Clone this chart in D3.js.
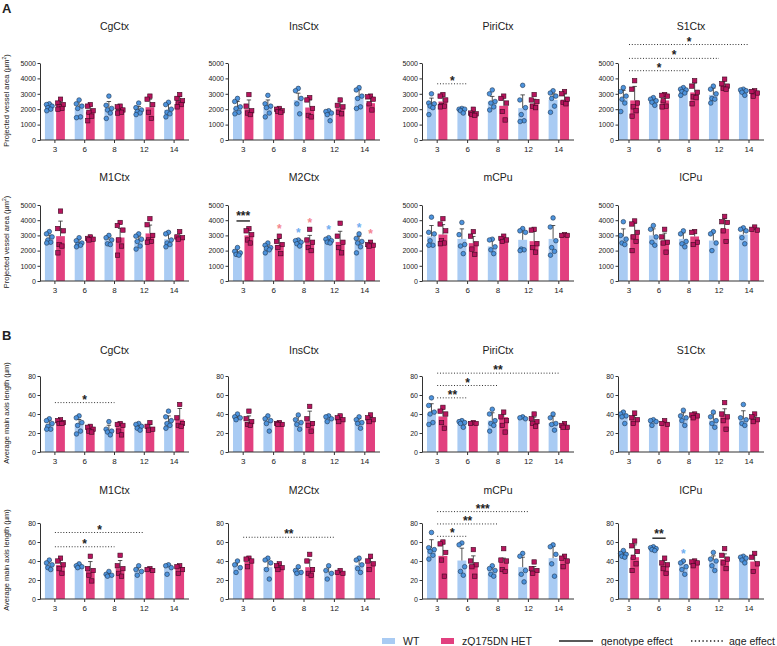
<!DOCTYPE html>
<html><head><meta charset="utf-8">
<script src="https://cdn.jsdelivr.net/npm/d3@7"></script>
<style>
body{margin:0;background:#fff}
svg{display:block}
text{font-family:"Liberation Sans",Arial,sans-serif;fill:#222}
</style>
</head><body>
<svg id="c" width="777" height="646"></svg>
<script>
// ---------------- DATA ----------------
const ages = [3, 6, 8, 12, 14];
const regions = ["CgCtx","InsCtx","PiriCtx","S1Ctx","M1Ctx","M2Ctx","mCPu","lCPu"];
const areaTicks = [0, 1000, 2000, 3000, 4000, 5000];
const lengthTicks = [0, 20, 40, 60, 80];
const areaTitle = "Projected vessel area (µm";
const lengthTitle = "Average main axis length (µm)";
const legendLabels = ["WT", "zQ175DN HET", "genotype effect", "age effect"];

// Panel A: projected vessel area
const areaWtMean = [
  [2170,2070,2040,1890,1960],[2070,2170,2590,1780,2780],[2280,1960,2500,2070,2610],[2650,2500,3150,2930,3220],
  [2750,2420,2690,2690,2750],[1830,2100,2600,2680,2630],[2930,2770,2270,2710,2770],[2930,3000,2770,2660,3060]];
const areaWtSd = [
  [180,530,460,280,390],[430,430,450,130,480],[440,150,330,860,390],[570,220,220,440,100],
  [270,380,260,260,490],[380,350,150,130,320],[720,660,500,720,880],[500,430,400,620,370]];
const areaHetMean = [
  [2220,1830,1850,2130,2500],[2000,1890,2110,2070,2390],[2500,1700,2220,2350,2570],[2570,2570,3090,3540,3150],
  [2950,2800,2860,3130,2860],[3000,2380,2550,2570,2370],[3060,2490,2710,2620,3000],[3060,2660,2930,3430,3330]];
const areaHetSd = [
  [380,390,220,520,330],[600,180,490,430,440],[480,260,610,300,410],[910,360,610,370,110],
  [990,150,600,550,380],[440,420,450,700,150],[650,440,220,660,60],[740,490,400,670,210]];
const areaWtPts = [
  [[2350,2300,2200,2100,2000,1900],[2600,2350,2200,2050,1500,1450],[2850,2250,2050,1950,1750,1400],[2400,2100,1950,1850,1750,1650],[2450,2300,2000,1800,1700,1500]],
  [[2700,2500,2150,2050,1800,1700],[2900,2350,2200,2100,1750,1500],[3350,3200,2700,2350,1700],[1900,1850,1750,1650,1250],[3400,3250,2850,2700,2150,2050]],
  [[3000,2400,2350,2200,2100,1650],[2050,2000,2000,1900,1750],[3250,3000,2500,2400,2150,1950],[3550,2600,2100,1650,1250,1200],[3200,3050,2850,2700,2200,1800]],
  [[3400,3150,2850,2650,2400,1850],[2750,2650,2550,2450,2250],[3400,3300,3250,3150,3050,2900],[3500,3300,3000,2700,2650,2400],[3300,3250,3200,3100,2900]],
  [[3250,3100,2900,2700,2550,2500],[2850,2650,2500,2400,2350,2250],[3000,2850,2700,2450,2400],[3100,2950,2750,2600,2300,2100],[3200,3100,2700,2500,2400,2250]],
  [[2200,1950,1850,1750,1700],[2500,2350,2200,2150,2050,1850],[2700,2650,2550,2450,2300],[2850,2750,2650,2550,2500],[3100,2800,2600,2500,2250,1850]],
  [[4200,3200,3100,2650,2350,2350],[3850,3050,2400,2300,1800],[2750,2700,2250,2050,1800],[3450,3300,3200,2100,2050,2000],[4150,3550,2650,2200,1950,1700]],
  [[3900,3000,2750,2500,2400],[3650,3400,2900,2550,2350],[3300,3100,2600,2450,2250],[3250,3100,2500,2000],[3500,3400,3300,2850,2450]]];
const areaHetPts = [
  [[2650,2400,2300,2150,2050,2000],[2300,2200,1900,1800,1550,1250],[2200,2150,1950,1850,1800,1750],[2850,2650,2300,1800,1400],[2950,2700,2550,2400,2300,2150]],
  [[2950,2200,1900,1750,1650],[2050,2000,1900,1850,1800],[2750,2600,2050,1600,1500],[2600,2250,2150,1800,1700],[2850,2800,2650,2350,1950]],
  [[2950,2850,2600,2250,2150,2200],[2000,1750,1700,1650,1600],[2850,2700,2400,1850,1300],[2950,2600,2500,2200,2100],[3150,3000,2650,2450,2350]],
  [[3850,3300,2400,2150,1900,1550],[2950,2900,2850,2550,2200,2150],[3850,3500,3100,2800,2750,2350],[3950,3650,3500,3350,3300],[3200,3150,3050,2850]],
  [[4600,3450,3300,2400,2300,1850],[2900,2800,2750,2700],[3850,3650,3350,2700,2300,1700],[4100,3700,3000,2700,2600,2550],[3250,2900,2850,2750]],
  [[3450,3300,3050,2700,2500],[2950,2600,2400,2200,1800],[3400,2700,2550,2200,2000],[3800,2950,2550,2200,1850],[2550,2400,2350,2300]],
  [[4100,3750,3300,2650,2500,2450],[3250,2950,2450,2100,1750],[2950,2800,2700,2600],[3400,3350,2450,2200,1900],[3050,3000,3000]],
  [[3950,3750,3200,2900,2600,2000],[3400,2900,2550,2500,1900],[3250,3200,2550,2400],[4250,3900,3850,3300,2600],[3550,3400,3350]]];

// Panel B: average main axis length
const lenWtMean = [
  [28.9,30,22.9,27.1,31.7],[35.9,33.5,32.4,35.9,31.7],[40.2,31.3,33.1,35.6,30.6],[40.2,33.1,37.7,33.1,34.9],
  [37,34.9,25.4,29.9,34.9],[34.9,33.5,29.9,27.8,35.9],[53.5,40.5,30.6,33.5,43],[46.5,52.5,37,41.2,43]];
const lenWtSd = [
  [4.6,4.2,5.3,2.9,6.3],[2.8,4.5,5.6,2.8,3.5],[10.6,1.8,8.2,1.1,7.1],[2.5,1.1,3.6,7.1,8.5],
  [3.5,2.1,1.7,3.6,1],[5.6,8.4,2.5,5.7,5.3],[8.9,13,3.6,10.5,12.3],[3.5,2.8,2.4,4.2,1.7]];
const lenHetMean = [
  [31.7,24.6,27.1,25.4,34.2],[31.7,31,32.4,34.2,34.2],[37.4,30.2,36.7,31.3,27],[34.9,31.3,39.1,38.4,34.9],
  [35.9,29.9,32.4,30.6,33.5],[39.4,33.5,33.5,27.1,37.7],[45.4,35.9,39.4,29.9,42.3],[44,37.7,39.4,41.9,39.4]];
const lenHetSd = [
  [2.5,3.6,3.9,3.5,11.6],[6.3,1,10.6,4.5,2.8],[9.9,0.4,3.5,5.4,2.5],[3.5,1.4,1.1,7.1,4.2],
  [6,9.5,8.1,1.8,1.4],[3.6,3.5,7.7,1.8,5.3],[12.7,9.5,3.6,4.3,4.2],[13,3.5,1.1,5.6,7.1]];
const lenWtPts = [
  [[35,33,30,27,24,24],[38,36,31,28,22,19],[32,24,22,21,18],[30,29,27,25,23],[43,37,33,30,28,25]],
  [[40,37,36,34],[38,35,33,30,22],[39,34,31,29,24],[38,37,35,32],[37,34,31,30,25]],
  [[57,49,42,40,31,29],[33,32,31,30,26],[45,40,33,30,28,22],[37,36,35],[40,36,30,29,23]],
  [[42,40,38,37,30],[34,33,32,28],[44,38,36,33,28],[42,37,33,30,26],[50,36,34,30,28]],
  [[41,38,36,33,31],[37,35,34,33],[29,26,25,24],[35,31,29,25],[36,35,33,26]],
  [[40,36,33,28],[43,41,38,31,21],[34,30,28,27],[35,30,27,21],[43,41,36,32,28]],
  [[70,54,52,50,46,42],[59,57,34,29,25],[35,32,30,26,24],[48,45,30,26,18],[57,55,47,37,24]],
  [[51,48,47,45,44],[55,54,53,52,51],[40,38,34,31,26],[49,42,40,35,30],[45,44,43,41,38]]];
const lenHetPts = [
  [[34,33,31,30,30],[27,26,24,22,21],[30,29,28,22,18],[31,27,24,23],[50,36,30,28,27]],
  [[43,35,32,29,28],[31,30,29,29],[48,35,30,28,22],[38,36,34,32],[39,36,34,32]],
  [[47,43,40,31,25],[31,30,30],[42,37,33,28,21],[40,35,32,30,27],[30,28,26,26]],
  [[41,36,34,30],[33,30,29],[40,39,38,36],[52,40,37,33,24],[40,37,34,32]],
  [[43,40,36,32,27],[45,32,30,25,19],[46,35,32,27,24],[32,31,30],[35,34,31,27]],
  [[43,42,40,34],[37,35,33,31],[47,40,31,27,25],[30,28,27],[45,40,37,31]],
  [[60,58,49,41,24],[52,40,36,34,24],[53,41,40,31,29],[39,32,30,27],[45,43,40,34]],
  [[61,56,50,44,37,30],[43,38,36,32,27],[40,39,38,35],[53,46,42,38,32],[48,44,37,29]]];

// Significance annotations (values in data units)
const areaAgeSig = [
  {region:"PiriCtx", from:3, to:6, value:3650, label:"*"},
  {region:"S1Ctx", from:3, to:8, value:4500, label:"*"},
  {region:"S1Ctx", from:3, to:12, value:5300, label:"*"},
  {region:"S1Ctx", from:3, to:14, value:6200, label:"*"}];
const areaGenoSig = [{region:"M2Ctx", age:3, value:3950, label:"***"}];
const areaStars = [
  {region:"M2Ctx", age:6, geno:"HET", value:3600},
  {region:"M2Ctx", age:8, geno:"WT", value:3300},
  {region:"M2Ctx", age:8, geno:"HET", value:4000},
  {region:"M2Ctx", age:12, geno:"WT", value:3520},
  {region:"M2Ctx", age:14, geno:"WT", value:3680},
  {region:"M2Ctx", age:14, geno:"HET", value:3280}];
const lenAgeSig = [
  {region:"CgCtx", from:3, to:8, value:52, label:"*"},
  {region:"PiriCtx", from:3, to:6, value:57, label:"**"},
  {region:"PiriCtx", from:3, to:8, value:70, label:"*"},
  {region:"PiriCtx", from:3, to:14, value:83, label:"**"},
  {region:"M1Ctx", from:3, to:8, value:55, label:"*"},
  {region:"M1Ctx", from:3, to:12, value:70, label:"*"},
  {region:"M2Ctx", from:3, to:12, value:65, label:"**"},
  {region:"mCPu", from:3, to:6, value:66, label:"*"},
  {region:"mCPu", from:3, to:8, value:79, label:"**"},
  {region:"mCPu", from:3, to:12, value:92, label:"***"}];
const lenGenoSig = [{region:"lCPu", age:6, value:64, label:"**"}];
const lenStars = [{region:"lCPu", age:8, geno:"WT", value:50}];

// ---------------- STYLE / LAYOUT ----------------
const C = {wtBar:"#a9cbf3", hetBar:"#e2407f", wtPt:"#4d93dd", wtPtS:"#1e3550",
           hetPt:"#b7145d", hetPtS:"#3d0b22", axis:"#333", err:"#2a2a2a",
           wtStar:"#72aef0", hetStar:"#f4868f"};
const colAxisX = [40, 228, 422, 618];
const colX0 = [40, 228, 422, 614];
const colW = [149, 152, 152, 150];
const rowTopY = [63, 205, 376, 523];
const rowBotY = [140, 281, 452, 599];
const titleY = [30, 181, 354, 494];
const jitter = [0, -2.8, 2.8, -1.4, 1.4, -2.6, 2.6];
const FONT = "Liberation Sans, Arial, sans-serif";

const svg = d3.select("#c");

const measures = [
  {rows:[0,1], max:5000, ticks:areaTicks, wtMean:areaWtMean, wtSd:areaWtSd, hetMean:areaHetMean, hetSd:areaHetSd,
   wtPts:areaWtPts, hetPts:areaHetPts, ageSig:areaAgeSig, genoSig:areaGenoSig, stars:areaStars, yTitle:areaTitle, sup:true, letter:"A", letterY:13},
  {rows:[2,3], max:80, ticks:lengthTicks, wtMean:lenWtMean, wtSd:lenWtSd, hetMean:lenHetMean, hetSd:lenHetSd,
   wtPts:lenWtPts, hetPts:lenHetPts, ageSig:lenAgeSig, genoSig:lenGenoSig, stars:lenStars, yTitle:lengthTitle, sup:false, letter:"B", letterY:340}];

function drawPanel(m, ri) {
  const row = m.rows[Math.floor(ri / 4)], col = ri % 4, region = regions[ri];
  const g = svg.append("g");
  const x = d3.scaleBand().domain(ages).range([colX0[col], colX0[col] + colW[col]]).paddingInner(0.33).paddingOuter(0.165);
  const xg = d3.scaleBand().domain(["WT","HET"]).range([0, x.bandwidth()]).paddingInner(0.22);
  const y = d3.scaleLinear().domain([0, m.max]).range([rowBotY[row], rowTopY[row]]);

  const groups = [];
  ages.forEach((a, i) => {
    groups.push({age:a, geno:"WT", mean:m.wtMean[ri][i], sd:m.wtSd[ri][i], pts:m.wtPts[ri][i]});
    groups.push({age:a, geno:"HET", mean:m.hetMean[ri][i], sd:m.hetSd[ri][i], pts:m.hetPts[ri][i]});
  });
  const bx = d => x(d.age) + xg(d.geno);
  const cx = d => bx(d) + xg.bandwidth() / 2;

  // bars
  g.selectAll("rect.bar").data(groups).join("rect").attr("class","bar")
    .attr("x", bx).attr("width", xg.bandwidth())
    .attr("y", d => y(d.mean)).attr("height", d => y(0) - y(d.mean))
    .attr("fill", d => d.geno === "WT" ? C.wtBar : C.hetBar);
  // error bars (mean + SD)
  g.selectAll("line.err").data(groups).join("line").attr("class","err")
    .attr("x1", cx).attr("x2", cx).attr("y1", d => y(d.mean)).attr("y2", d => y(d.mean + d.sd))
    .attr("stroke", C.err).attr("stroke-width", 0.8);
  g.selectAll("line.cap").data(groups).join("line").attr("class","cap")
    .attr("x1", d => cx(d) - 2.2).attr("x2", d => cx(d) + 2.2)
    .attr("y1", d => y(d.mean + d.sd)).attr("y2", d => y(d.mean + d.sd))
    .attr("stroke", C.err).attr("stroke-width", 0.8);
  // points
  groups.forEach(d => {
    const sorted = d.pts.slice().sort((a, b) => b - a);
    const pts = sorted.map((v, k) => ({v, px: cx(d) + jitter[k % jitter.length]}));
    if (d.geno === "WT") {
      g.append("g").selectAll("circle").data(pts).join("circle")
        .attr("cx", p => p.px).attr("cy", p => y(p.v)).attr("r", 2.3)
        .attr("fill", C.wtPt).attr("stroke", C.wtPtS).attr("stroke-width", 0.6);
    } else {
      g.append("g").selectAll("rect").data(pts).join("rect")
        .attr("x", p => p.px - 2.2).attr("y", p => y(p.v) - 2.2).attr("width", 4.4).attr("height", 4.4)
        .attr("fill", C.hetPt).attr("stroke", C.hetPtS).attr("stroke-width", 0.6);
    }
  });

  // y axis
  const ya = g.append("g").attr("transform", `translate(${colAxisX[col]},0)`)
    .call(d3.axisLeft(y).tickValues(m.ticks).tickSize(2.5).tickSizeOuter(0).tickPadding(1.5).tickFormat(d3.format("d")));
  ya.attr("font-size", 7).attr("font-family", FONT).style("color", C.axis);
  ya.selectAll("text").style("fill", "#222");
  // x axis
  const xa = g.append("g").attr("transform", `translate(0,${rowBotY[row]})`)
    .call(d3.axisBottom(x).tickSize(3).tickSizeOuter(0).tickPadding(3));
  xa.attr("font-size", 8).attr("font-family", FONT).style("color", C.axis);
  xa.selectAll("text").style("fill", "#222");
  xa.select(".domain").remove();
  g.append("line").attr("x1", colAxisX[col]).attr("x2", x.range()[1])
    .attr("y1", rowBotY[row]).attr("y2", rowBotY[row]).attr("stroke", C.axis).attr("stroke-width", 1);

  // title
  g.append("text").attr("x", (colAxisX[col] + x.range()[1]) / 2).attr("y", titleY[row])
    .attr("text-anchor", "middle").attr("font-size", 10.5).text(region);

  // y title (first column only)
  if (col === 0) {
    const t = g.append("text").attr("transform", `translate(9,${(rowTopY[row] + rowBotY[row]) / 2 - 1}) rotate(-90)`)
      .attr("text-anchor", "middle").attr("font-size", 7.5).text(m.yTitle);
    if (m.sup) {
      t.append("tspan").attr("baseline-shift", "super").attr("font-size", 5).text("2");
      t.append("tspan").text(")");
    }
  }

  const ctr = a => x(a) + x.bandwidth() / 2;
  // age effect (dotted)
  m.ageSig.filter(s => s.region === region).forEach(s => {
    const yy = y(s.value);
    g.append("line").attr("x1", ctr(s.from)).attr("x2", ctr(s.to)).attr("y1", yy).attr("y2", yy)
      .attr("stroke", "#333").attr("stroke-width", 1).attr("stroke-dasharray", "1,1.8");
    g.append("text").attr("x", (ctr(s.from) + ctr(s.to)) / 2).attr("y", yy + 1)
      .attr("text-anchor", "middle").attr("font-size", 12).attr("font-weight", "bold").text(s.label);
  });
  // genotype effect (solid)
  m.genoSig.filter(s => s.region === region).forEach(s => {
    const yy = y(s.value);
    const a = {age:s.age, geno:"WT"}, b = {age:s.age, geno:"HET"};
    g.append("line").attr("x1", cx(a) - 1).attr("x2", cx(b) + 1).attr("y1", yy).attr("y2", yy)
      .attr("stroke", "#222").attr("stroke-width", 1.4);
    g.append("text").attr("x", (cx(a) + cx(b)) / 2).attr("y", yy - 0.5)
      .attr("text-anchor", "middle").attr("font-size", 12).attr("font-weight", "bold").text(s.label);
  });
  // coloured per-bar stars
  m.stars.filter(s => s.region === region).forEach(s => {
    g.append("text").attr("x", cx({age:s.age, geno:s.geno})).attr("y", y(s.value) + 6.5)
      .attr("text-anchor", "middle").attr("font-size", 12).attr("font-weight", "bold")
      .style("fill", s.geno === "WT" ? C.wtStar : C.hetStar).text("*");
  });
}

measures.forEach(m => {
  regions.forEach((r, ri) => drawPanel(m, ri));
  svg.append("text").attr("x", 2).attr("y", m.letterY).attr("font-size", 13).attr("font-weight", "bold").text(m.letter);
});

// legend
const lg = svg.append("g");
lg.append("rect").attr("x", 382).attr("y", 638).attr("width", 13).attr("height", 6).attr("fill", C.wtBar);
lg.append("text").attr("x", 403).attr("y", 644.5).attr("font-size", 10.5).text(legendLabels[0]);
lg.append("rect").attr("x", 441).attr("y", 638).attr("width", 13).attr("height", 6).attr("fill", C.hetBar);
lg.append("text").attr("x", 462).attr("y", 644.5).attr("font-size", 10.5).text(legendLabels[1]);
lg.append("line").attr("x1", 559).attr("x2", 593).attr("y1", 641).attr("y2", 641).attr("stroke", "#222").attr("stroke-width", 1.4);
lg.append("text").attr("x", 601).attr("y", 644.5).attr("font-size", 10.5).text(legendLabels[2]);
lg.append("line").attr("x1", 691).attr("x2", 723).attr("y1", 641).attr("y2", 641).attr("stroke", "#222").attr("stroke-width", 1.4).attr("stroke-dasharray", "1.4,2.4");
lg.append("text").attr("x", 729).attr("y", 644.5).attr("font-size", 10.5).text(legendLabels[3]);
</script>
</body></html>
